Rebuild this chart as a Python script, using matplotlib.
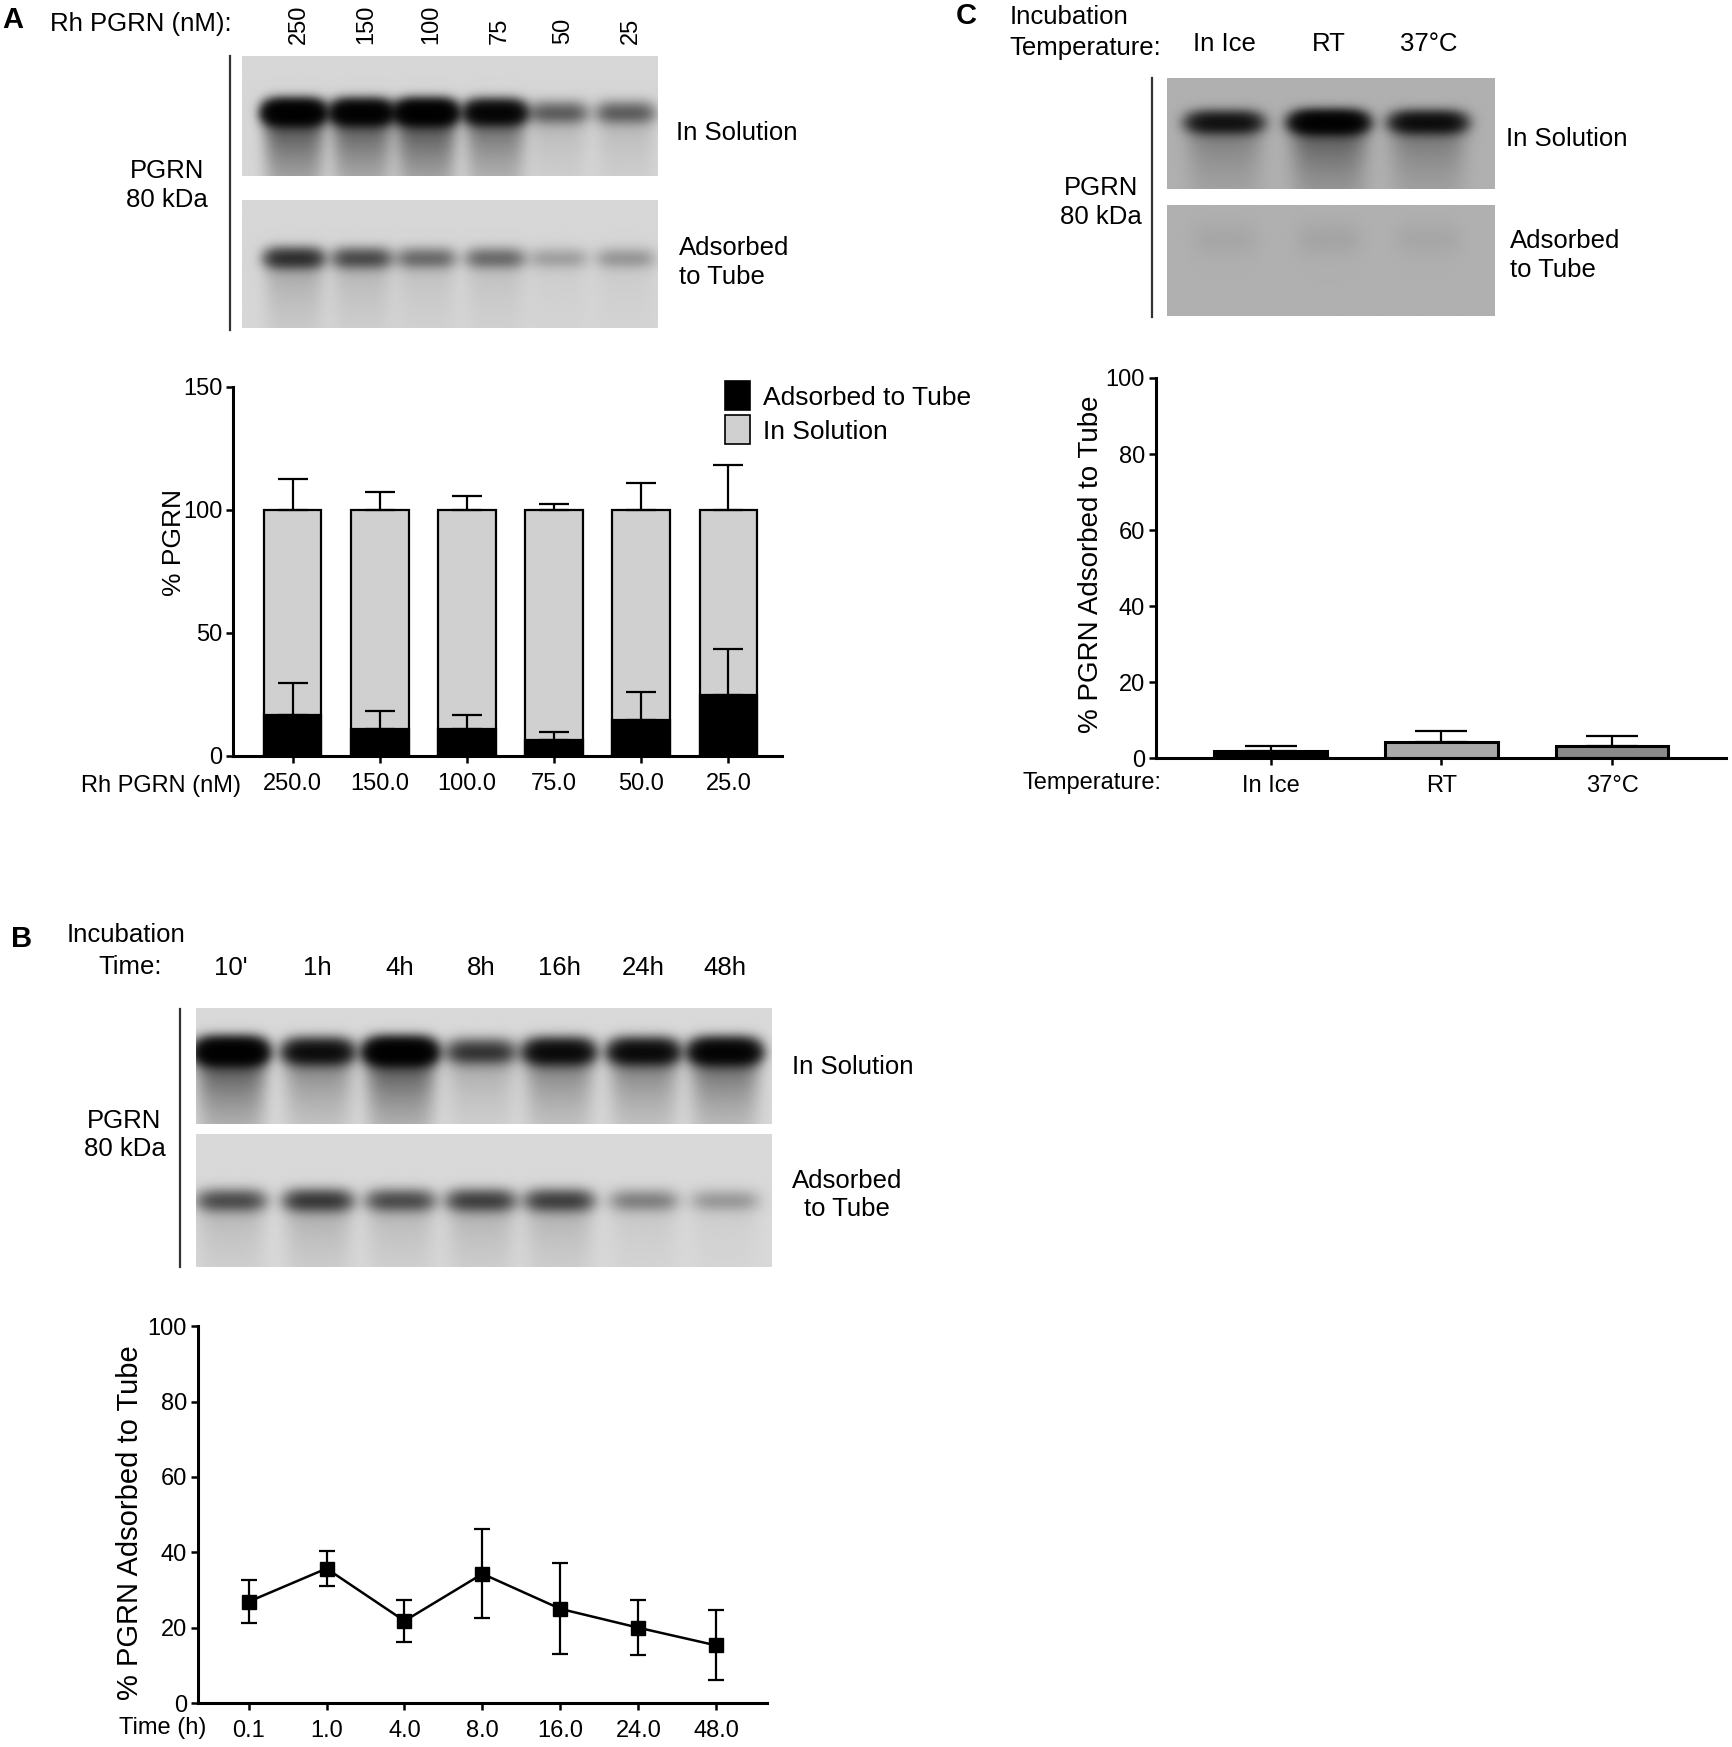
import numpy as np
import matplotlib
matplotlib.use("Agg")
import matplotlib.pyplot as plt
from matplotlib.patches import Patch

plt.rcParams['font.family'] = ['Liberation Sans', 'DejaVu Sans']

# ---------------- data ----------------
# Panel A
a_conc_lanes = ["250", "150", "100", "75", "50", "25"]
a_conc_ticks = ["250.0", "150.0", "100.0", "75.0", "50.0", "25.0"]
a_adsorbed = [16.5, 10.8, 10.8, 6.3, 14.5, 24.7]
a_adsorbed_err = [13.0, 7.4, 5.8, 3.4, 11.3, 18.6]
a_total = [100, 100, 100, 100, 100, 100]
a_solution_err = [12.7, 7.1, 5.5, 2.5, 10.9, 18.3]
a_blot_solution = [4.5, 4.0, 4.5, 3.2, 0.7, 0.7]
a_blot_adsorbed = [1.3, 0.9, 0.6, 0.6, 0.25, 0.3]

# Panel B
b_time_lanes = ["10'", "1h", "4h", "8h", "16h", "24h", "48h"]
b_time_ticks = ["0.1", "1.0", "4.0", "8.0", "16.0", "24.0", "48.0"]
b_adsorbed = [26.9, 35.7, 21.8, 34.3, 25.0, 20.0, 15.3]
b_adsorbed_err = [5.7, 4.7, 5.5, 11.8, 12.1, 7.3, 9.3]
b_blot_solution = [4.5, 2.4, 4.5, 1.2, 2.6, 2.6, 3.4]
b_blot_adsorbed = [0.9, 1.15, 0.9, 1.05, 1.05, 0.45, 0.3]

# Panel C
c_temps = ["In Ice", "RT", "37°C"]
c_adsorbed = [1.8, 4.2, 3.1]
c_adsorbed_err = [1.5, 3.0, 2.8]
c_colors = ["#000000", "#a9a9a9", "#8a8a8a"]
c_blot_solution = [2.0, 3.8, 2.3]
c_blot_adsorbed = [0.05, 0.06, 0.05]

# ---------------- layout helpers ----------------
W, H = 1558.0, 1571.5
fig = plt.figure(figsize=(17.32, 17.47), dpi=100)


def fax(l, t, r, b):
    return fig.add_axes([l / W, 1 - b / H, (r - l) / W, (b - t) / H])


def ftext(x, y, s, ha='left', va='center', size=18.5, **kw):
    fig.text(x / W, 1 - y / H, s, ha=ha, va=va, fontsize=size, **kw)


def vline(x, y0, y1):
    fig.add_artist(plt.Line2D([x / W, x / W], [1 - y0 / H, 1 - y1 / H],
                              color='#333333', lw=1.6))


def blot(l, t, r, b, lanes, dens, bg, y0, half_w, sig, tail):
    ax = fax(l, t, r, b)
    nx, ny = 600, 220
    X = np.linspace(0, 1, nx)[None, :]
    Y = np.linspace(0, 1, ny)[:, None]
    D = np.zeros((ny, nx))
    for xc, d in zip(lanes, dens):
        h = np.exp(-np.abs((X - xc) / half_w) ** 4)
        dy = Y - y0
        v = np.exp(-(dy / sig) ** 2) + tail / (1 + np.exp(-dy / 0.02)) * np.exp(-np.clip(dy, 0, None) / 0.35)
        D += d * h * v
    img = bg * np.exp(-D)
    ax.imshow(img, cmap='gray', vmin=0, vmax=1, extent=(0, 1, 1, 0),
              aspect='auto', interpolation='bilinear')
    ax.set_xlim(0, 1)
    ax.set_ylim(1, 0)
    ax.axis('off')
    return ax


def style_axes(ax, tick_size=17):
    for s in ['top', 'right']:
        ax.spines[s].set_visible(False)
    for s in ['left', 'bottom']:
        ax.spines[s].set_linewidth(2.2)
    ax.tick_params(axis='both', width=1.8, length=5, labelsize=tick_size, pad=3)
    ax.tick_params(axis='x', pad=7)


# ================= Panel A =================
ftext(2, 18, "A", size=21, weight='bold')
ftext(45, 22, "Rh PGRN (nM):")
a_l, a_r = 218, 592
a_lanes = [0.125, 0.288, 0.443, 0.609, 0.761, 0.923]
for f, lab in zip(a_lanes, a_conc_lanes):
    ftext(a_l + f * (a_r - a_l) + 4, 40, lab, ha='center', va='bottom', rotation=90, size=17)
vline(207, 50, 297)
blot(a_l, 50, a_r, 158, a_lanes, a_blot_solution, 0.84, 0.47, 0.07, 0.09, 0.3)
blot(a_l, 180, a_r, 295, a_lanes, a_blot_adsorbed, 0.84, 0.45, 0.07, 0.08, 0.25)
ftext(150, 167, "PGRN\n80 kDa", ha='center', linespacing=1.25)
ftext(608, 120, "In Solution")
ftext(611, 236, "Adsorbed\nto Tube", linespacing=1.25)

axA = fax(210, 348, 703, 680)
xa = np.arange(len(a_conc_ticks))
axA.bar(xa, a_total, width=0.66, color='#d0d0d0', edgecolor='black', lw=1.6, zorder=2)
axA.bar(xa, a_adsorbed, width=0.66, color='black', edgecolor='black', lw=1.6, zorder=3)
axA.errorbar(xa, a_total, yerr=[np.zeros(len(xa)), a_solution_err], fmt='none',
             ecolor='black', elinewidth=1.6, capsize=11, capthick=1.6, zorder=4)
axA.errorbar(xa, a_adsorbed, yerr=[np.zeros(len(xa)), a_adsorbed_err], fmt='none',
             ecolor='black', elinewidth=1.6, capsize=11, capthick=1.6, zorder=4)
axA.set_xlim(-0.68, 5.61)
axA.set_ylim(0, 150)
axA.set_yticks([0, 50, 100, 150])
axA.set_xticks(xa)
axA.set_xticklabels(a_conc_ticks)
style_axes(axA)
axA.set_ylabel("% PGRN", fontsize=19)
axA.yaxis.set_label_coords(-0.087, 0.578)
ftext(217, 707, "Rh PGRN (nM)", ha='right', size=17)
fig.legend(handles=[Patch(facecolor='black', edgecolor='black', lw=1.2),
                    Patch(facecolor='#d0d0d0', edgecolor='black', lw=1.2)],
           labels=["Adsorbed to Tube", "In Solution"],
           loc='upper left', bbox_to_anchor=(652 / W, 1 - 343 / H), frameon=False,
           fontsize=19, handlelength=0.95, handleheight=1.3, handletextpad=0.5,
           labelspacing=0.2, borderpad=0, borderaxespad=0)

# ================= Panel B =================
ftext(10, 845, "B", size=21, weight='bold')
ftext(60, 841, "Incubation")
ftext(146, 870, "Time:", ha='right')
b_l, b_r = 176, 694
b_lanes = [0.061, 0.212, 0.355, 0.495, 0.631, 0.778, 0.919]
for f, lab in zip(b_lanes, b_time_lanes):
    ftext(b_l + f * (b_r - b_l), 871, lab, ha='center')
vline(162, 908, 1140)
blot(b_l, 907, b_r, 1011, b_lanes, b_blot_solution, 0.85, 0.37, 0.058, 0.1, 0.3)
blot(b_l, 1020, b_r, 1140, b_lanes, b_blot_adsorbed, 0.85, 0.5, 0.058, 0.08, 0.25)
ftext(112, 1021, "PGRN\n80 kDa", ha='center', linespacing=1.25)
ftext(712, 960, "In Solution")
ftext(762, 1075, "Adsorbed\nto Tube", ha='center', multialignment='center', linespacing=1.25)

axB = fax(178, 1193, 690, 1532)
xb = np.arange(len(b_time_ticks))
axB.errorbar(xb, b_adsorbed, yerr=b_adsorbed_err, fmt='-s', color='black',
             lw=1.8, ms=10, elinewidth=1.6, capsize=5.5, capthick=1.6)
axB.set_xlim(-0.65, 6.65)
axB.set_ylim(0, 100)
axB.set_yticks([0, 20, 40, 60, 80, 100])
axB.set_xticks(xb)
axB.set_xticklabels(b_time_ticks)
style_axes(axB)
axB.set_ylabel("% PGRN Adsorbed to Tube", fontsize=21)
axB.yaxis.set_label_coords(-0.094, 0.478)
ftext(186, 1554, "Time (h)", ha='right', size=17)

# ================= Panel C =================
ftext(860, 14, "C", size=21, weight='bold')
ftext(908, 15, "Incubation")
ftext(908, 43, "Temperature:")
c_l, c_r = 1050, 1345
c_lanes = [0.175, 0.494, 0.797]
for f, lab in zip(c_lanes, c_temps):
    ftext(c_l + f * (c_r - c_l), 40, lab, ha='center')
vline(1036, 70, 285)
blot(c_l, 70, c_r, 170, c_lanes, c_blot_solution, 0.69, 0.4, 0.11, 0.09, 0.25)
blot(c_l, 184, c_r, 284, c_lanes, c_blot_adsorbed, 0.69, 0.3, 0.1, 0.15, 0.2)
ftext(990, 182, "PGRN\n80 kDa", ha='center', linespacing=1.25)
ftext(1355, 125, "In Solution")
ftext(1358, 230, "Adsorbed\nto Tube", linespacing=1.25)

axC = fax(1040, 340, 1553, 682)
xc = np.arange(len(c_temps))
axC.bar(xc, c_adsorbed, width=0.66, color=c_colors, edgecolor='black', lw=2.2, zorder=2)
axC.errorbar(xc, c_adsorbed, yerr=[np.zeros(len(xc)), c_adsorbed_err], fmt='none',
             ecolor='black', elinewidth=1.6, capsize=19, capthick=1.6, zorder=3)
axC.set_xlim(-0.67, 2.67)
axC.set_ylim(0, 100)
axC.set_yticks([0, 20, 40, 60, 80, 100])
axC.set_xticks(xc)
axC.set_xticklabels(c_temps)
style_axes(axC)
axC.set_ylabel("% PGRN Adsorbed to Tube", fontsize=20)
axC.yaxis.set_label_coords(-0.092, 0.51)
ftext(1045, 704, "Temperature:", ha='right', size=17)

fig.savefig("out.png", dpi=100)
